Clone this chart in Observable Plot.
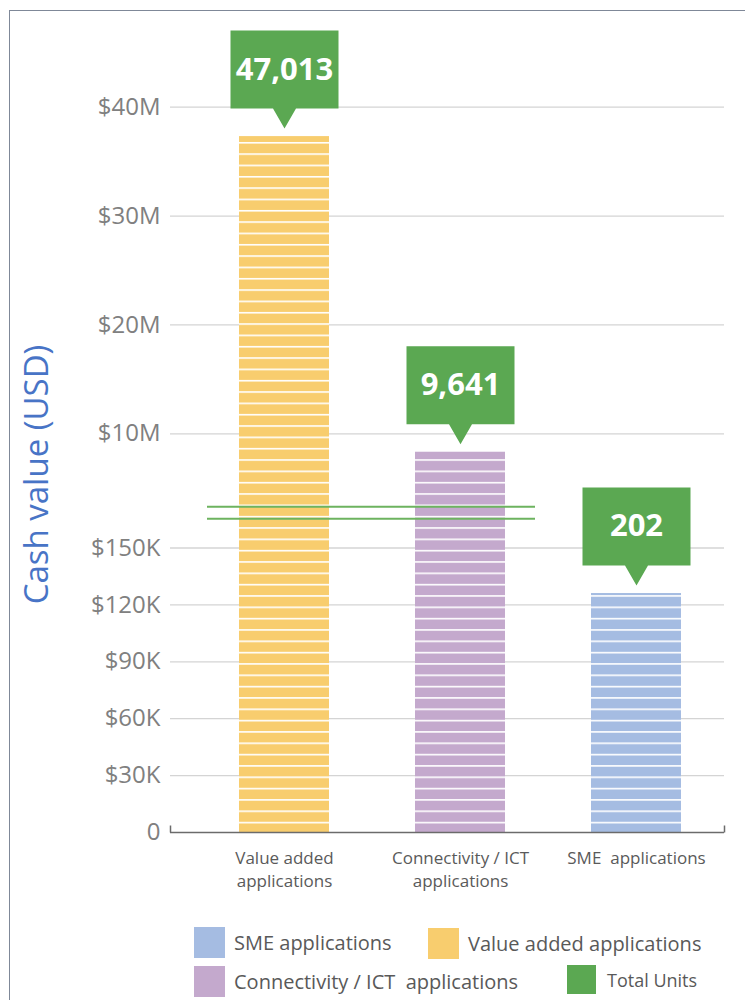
<!DOCTYPE html>
<html><head><meta charset="utf-8">
<script src="https://cdn.jsdelivr.net/npm/d3@7"></script>
<script src="https://cdn.jsdelivr.net/npm/@observablehq/plot@0.6"></script>
<style>
body{margin:0;background:#fff;font-family:"Open Sans",sans-serif;}
#wrap{position:relative;width:745px;height:1000px;overflow:hidden;}
#border{position:absolute;left:9px;top:10px;width:760px;height:1010px;border-left:1.5px solid #7f8898;border-top:1.5px solid #7f8898;pointer-events:none;}
#chart{position:absolute;left:0;top:0;}
.leg{position:absolute;display:flex;align-items:center;color:#595959;white-space:pre;line-height:1;}
.sw{display:inline-block;flex:none;}
</style></head><body>
<div id="wrap"><div id="chart"></div><div id="legend"></div><div id="border"></div></div>
<script>
// ---- data ----
const categories = ["Value added applications", "Connectivity / ICT applications", "SME applications"];
const categoryLabels = ["Value added\napplications", "Connectivity / ICT\napplications", "SME  applications"];
const cashValues = [37300000, 8410000, 126000];
const totalUnits = [47013, 9641, 202];
const barColors = ["#f8cd6e", "#c4a9cd", "#a5bce2"];
const unitsColor = "#5ba852";
const unitsLabel = "Total Units";
const yTicks = [0, 30000, 60000, 90000, 120000, 150000, 10000000, 20000000, 30000000, 40000000];
const yDomain = [0, 150000, 10000000, 40000000];   // broken (piecewise) axis
const axisBreak = 3200000;
const yTitle = "Cash value (USD)";
const legendOrder = ["SME applications", "Value added applications", "Connectivity / ICT applications", unitsLabel];
const legendText = ["SME applications", "Value added applications", "Connectivity / ICT  applications", unitsLabel];

// ---- build ----
const rows = categories.map((c, i) => ({category: c, label: categoryLabels[i], value: cashValues[i], units: totalUnits[i]}));
const fmt = v => v === 0 ? "0" : v >= 1e6 ? `$${v / 1e6}M` : `$${v / 1e3}K`;

const calloutSymbol = {draw(ctx) {
  const w = 54, top = -98, bot = -20, hw = 11.5;
  ctx.moveTo(-w, top); ctx.lineTo(w, top); ctx.lineTo(w, bot); ctx.lineTo(hw, bot);
  ctx.lineTo(0, 0); ctx.lineTo(-hw, bot); ctx.lineTo(-w, bot); ctx.closePath();
}};
const tickSymbol = {draw(ctx) { ctx.moveTo(0, -7); ctx.lineTo(0, 0); }};

const svg = Plot.plot({
  width: 745, height: 905,
  marginLeft: 170, marginRight: 21, marginTop: 20, marginBottom: 73,
  style: {fontFamily: '"Open Sans", sans-serif', color: "#808080", background: "transparent", overflow: "visible"},
  x: {type: "band", domain: categories, range: [238, 681], paddingInner: 0.49, paddingOuter: 0, align: 0.5, axis: null},
  y: {type: "linear", domain: yDomain, range: [832, 547.5, 433.3, 106.7]},
  color: {type: "ordinal", domain: categories, range: barColors},
  marks: [
    Plot.gridY(yTicks.filter(d => d > 0), {stroke: "#d4d4d4", strokeOpacity: 1, strokeWidth: 1.3}),
    Plot.axisY(yTicks, {tickSize: 0, tickPadding: 10, fontSize: 24, tickFormat: fmt, label: null}),
    Plot.text([yTitle], {frameAnchor: "left", textAnchor: "middle", text: d => d, rotate: -90, dx: -133, dy: 48, fontSize: 33, fill: "#4874c6"}),
    Plot.barY(rows, {x: "category", y: "value", fill: "category"}),
    Plot.barY(rows, {x: "category", y: "value", fill: "url(#stripes)"}),
    Plot.ruleY([axisBreak], {dy: -6, stroke: "#6db35f", strokeWidth: 2, insetLeft: 37, insetRight: 189}),
    Plot.ruleY([axisBreak], {dy: 6, stroke: "#6db35f", strokeWidth: 2, insetLeft: 37, insetRight: 189}),
    Plot.ruleY([0], {stroke: "#6b6b6b", strokeWidth: 1.5}),
    Plot.dot([0], {frameAnchor: "bottom-left", symbol: tickSymbol, stroke: "#6b6b6b", fill: "none", strokeWidth: 1.5}),
    Plot.dot([0], {frameAnchor: "bottom-right", symbol: tickSymbol, stroke: "#6b6b6b", fill: "none", strokeWidth: 1.5}),
    Plot.text(rows, {x: "category", text: "label", frameAnchor: "bottom", lineAnchor: "top", dy: 15, fontSize: 17, lineHeight: 1.35, fill: "#5a5a5a"}),
    Plot.dot(rows, {x: "category", y: "value", symbol: calloutSymbol, fill: unitsColor, dy: -8}),
    Plot.text(rows, {x: "category", y: "value", text: d => d3.format(",")(d.units), dy: -67, fill: "white", fontSize: 31, fontWeight: "bold"})
  ]
});
svg.insertAdjacentHTML("afterbegin",
  '<defs><pattern id="stripes" patternUnits="userSpaceOnUse" x="0" y="6" width="745" height="11.33">' +
  '<rect x="0" y="0" width="745" height="1.6" fill="#ffffff"/></pattern></defs>');
document.getElementById("chart").appendChild(svg);

// ---- legend (HTML, below the plot) ----
const legendLayout = [
  {left: 194, top: 927, size: 31, font: 20, gap: 9},
  {left: 428, top: 928, size: 31, font: 20, gap: 9},
  {left: 194, top: 966, size: 31, font: 20, gap: 9},
  {left: 567, top: 965, size: 29, font: 18, gap: 11}
];
const legend = document.getElementById("legend");
legendOrder.forEach((name, i) => {
  const idx = categories.indexOf(name);
  const color = idx >= 0 ? barColors[idx] : unitsColor;
  const L = legendLayout[i];
  const el = document.createElement("div");
  el.className = "leg";
  el.style.left = L.left + "px"; el.style.top = L.top + "px"; el.style.height = L.size + "px";
  el.style.fontSize = L.font + "px";
  el.innerHTML = `<span class="sw" style="width:${L.size}px;height:${L.size}px;background:${color};margin-right:${L.gap}px"></span><span></span>`;
  el.lastChild.textContent = legendText[i];
  legend.appendChild(el);
});
</script>
</body></html>
